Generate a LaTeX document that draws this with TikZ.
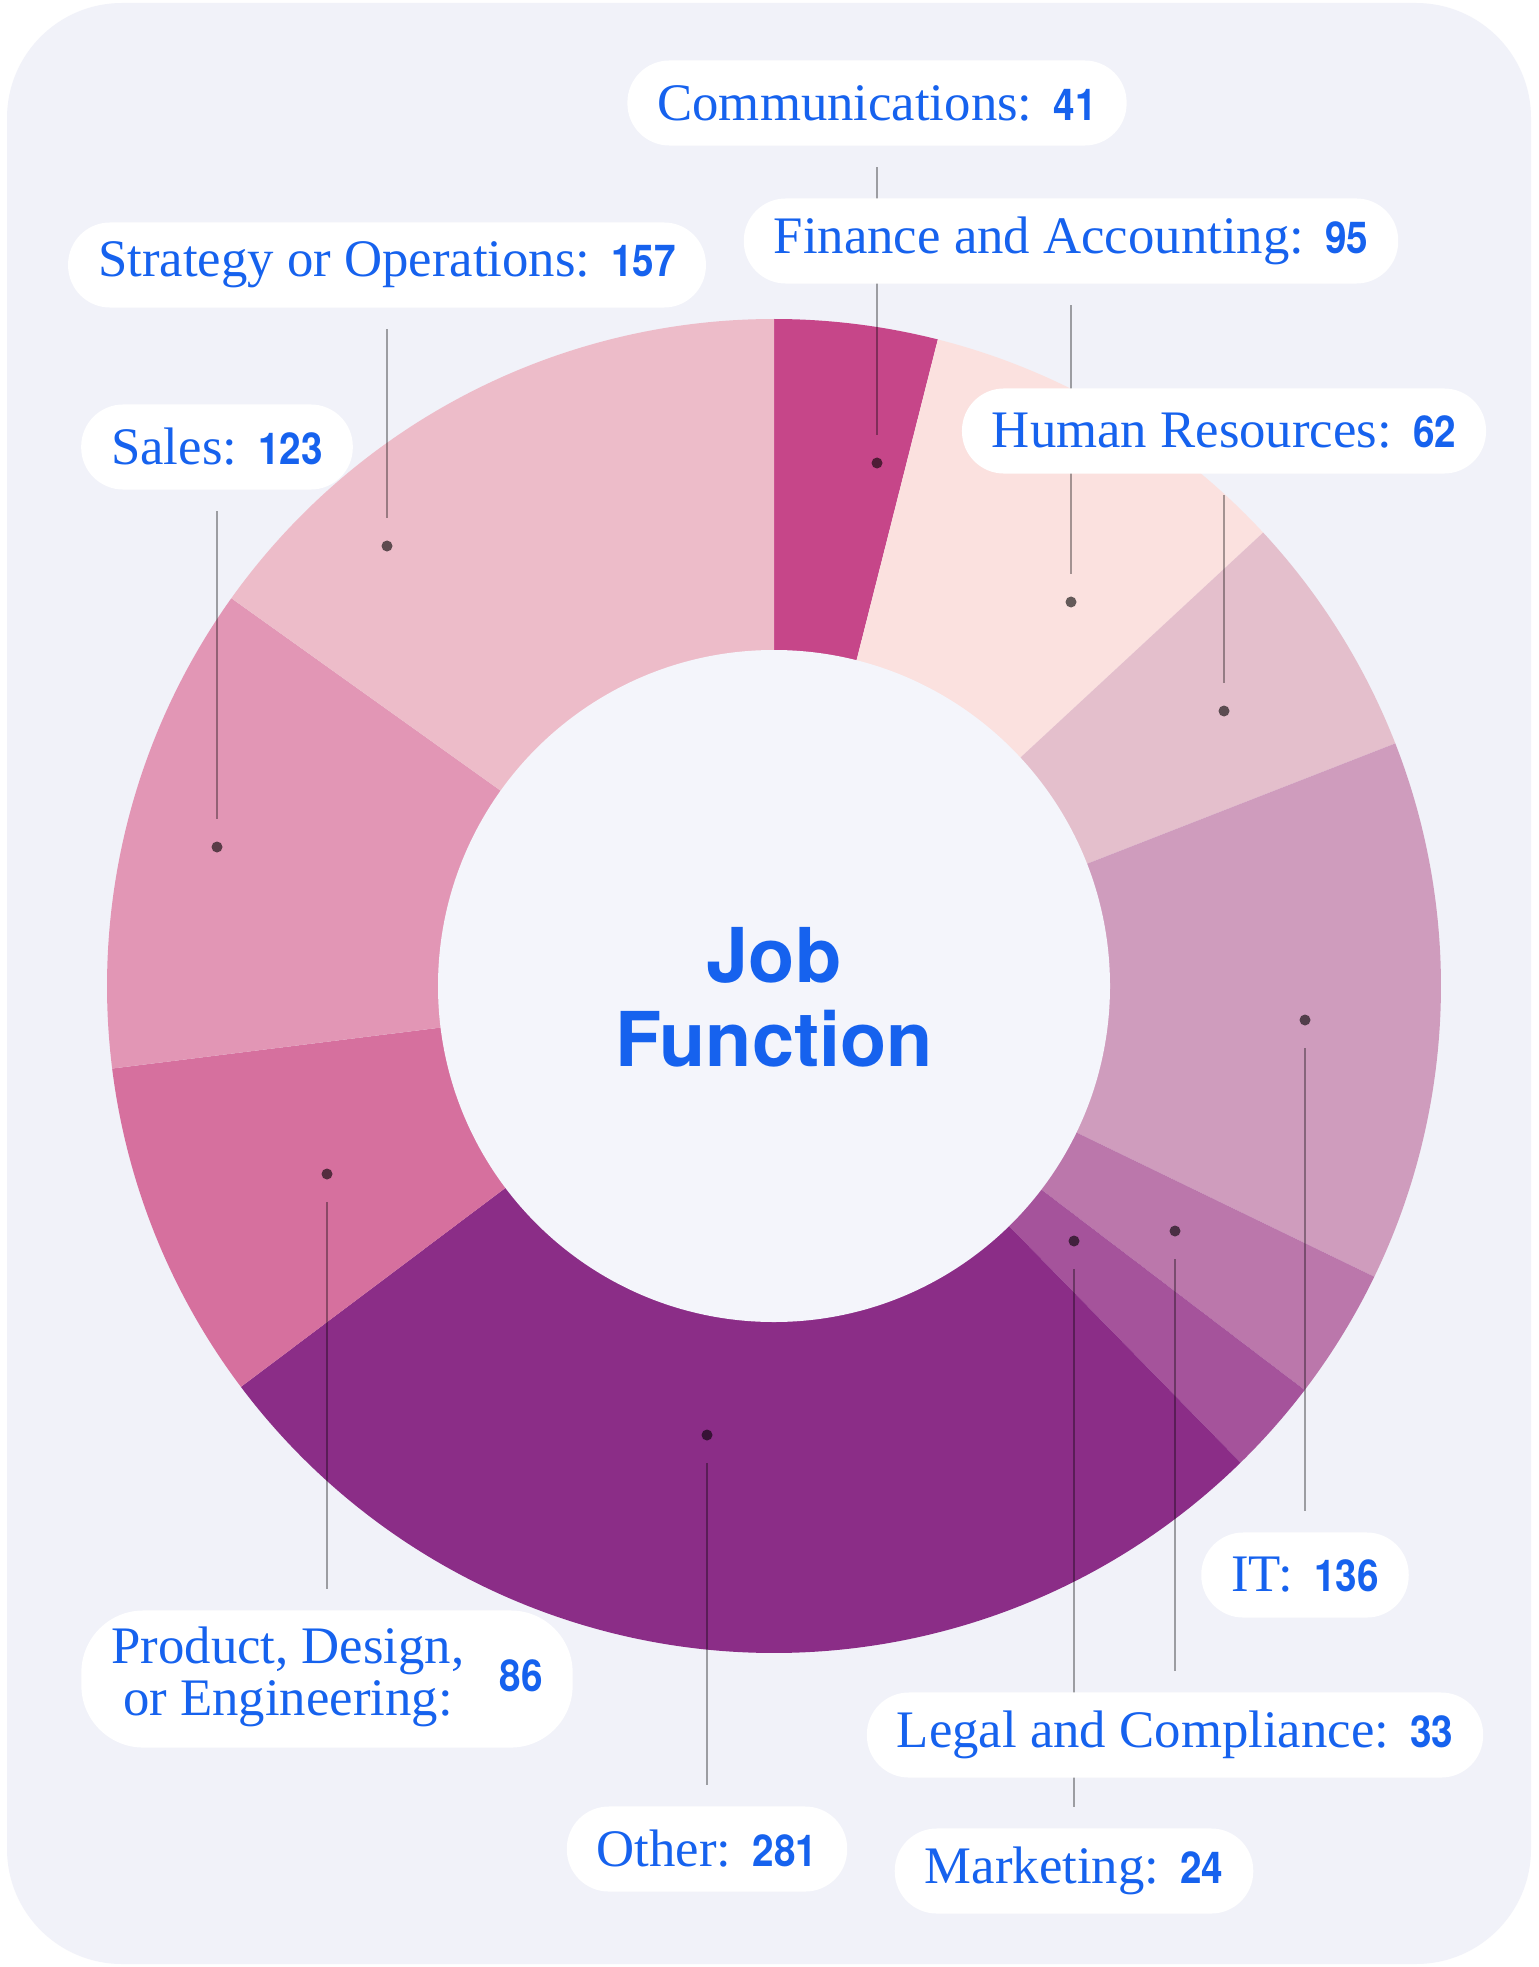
\documentclass[tikz,border=0pt]{standalone}
\usepackage{fontspec}
\setmainfont{Liberation Serif}
\newfontfamily\headfont{TeX Gyre Heros}
\newfontfamily\numfont{TeX Gyre Heros}[FakeStretch=0.88]
\usetikzlibrary{calc}
\definecolor{inkblue}{HTML}{1662EE}
\definecolor{cardbg}{HTML}{F1F2F9}
\definecolor{holebg}{HTML}{F4F5FB}
\definecolor{commcol}{HTML}{C64689}
\definecolor{fincol}{HTML}{FBE1DF}
\definecolor{hrcol}{HTML}{E4BFCC}
\definecolor{itcol}{HTML}{CF9CBD}
\definecolor{legcol}{HTML}{BB77AB}
\definecolor{mktcol}{HTML}{A5539B}
\definecolor{othcol}{HTML}{8B2D87}
\definecolor{prdcol}{HTML}{D6709E}
\definecolor{salcol}{HTML}{E296B5}
\definecolor{strcol}{HTML}{EDBCC9}
\pgfdeclarelayer{chart}
\pgfdeclarelayer{leaders}
\pgfsetlayers{chart,leaders,main}
\newcommand{\cnt}[1]{{\numfont\bfseries\fontsize{12.5}{14}\selectfont #1}}
\tikzset{
  pill/.style={fill=white, rounded corners=0.42cm, minimum height=0.85cm, inner xsep=0.3cm, text=inkblue, font=\fontsize{15}{15}\selectfont},
  tallpill/.style={pill, minimum height=1.37cm, rounded corners=0.62cm},
  dot/.style={circle, fill=black, opacity=0.6, inner sep=0pt, minimum size=0.11cm},
  leader/.style={draw=black, opacity=0.35, line width=0.8pt, shorten <=0.22cm, shorten >=0.21cm}
}
\begin{document}
\begin{tikzpicture}[x=0.01cm, y=0.01cm]
  \useasboundingbox (0,0) rectangle (1538,-1967);
  \begin{pgfonlayer}{chart}
    \fill[white] (0,0) rectangle (1538,-1967);
    \fill[cardbg, rounded corners=1.15cm] (7,-3) rectangle (1531,-1964);
    \coordinate (c) at (774,-986);
    \foreach \a/\b/\col in {90/75.78/commcol, 75.78/42.83/fincol, 42.83/21.33/hrcol, 21.33/-25.84/itcol, -25.84/-37.28/legcol, -37.28/-45.61/mktcol, -45.61/-143.06/othcol, -143.06/-172.89/prdcol, -172.89/-215.55/salcol, -215.55/-270/strcol}
      \fill[\col] (c) -- ++(\a:667) arc[start angle=\a, end angle=\b, radius=667] -- cycle;
    \fill[holebg] (c) circle (336);
  \end{pgfonlayer}

  \node[font=\headfont\bfseries\fontsize{21.5}{24}\selectfont, text=inkblue, align=center] (title) at (774,-997) {Job\\Function};

  \node[pill] (lcomm) at (877,-103) {Communications:\hspace{6pt}\cnt{41}};
  \node[pill] (lfin) at (1071,-241) {Finance and Accounting:\hspace{6pt}\cnt{95}};
  \node[pill] (lstr) at (387,-265) {Strategy or Operations:\hspace{6pt}\cnt{157}};
  \node[pill] (lhr) at (1224,-431) {Human Resources:\hspace{6pt}\cnt{62}};
  \node[pill] (lsal) at (217,-447) {Sales:\hspace{6pt}\cnt{123}};
  \node[pill] (lit) at (1305,-1575) {IT:\hspace{6pt}\cnt{136}};
  \node[tallpill] (lprd) at (327,-1679) {\begin{tabular}{@{}c@{}}Product, Design,\\or Engineering:\end{tabular}\hspace{10pt}\cnt{86}};
  \node[pill] (lleg) at (1175,-1735) {Legal and Compliance:\hspace{6pt}\cnt{33}};
  \node[pill] (loth) at (707,-1849) {Other:\hspace{6pt}\cnt{281}};
  \node[pill] (lmkt) at (1074,-1871) {Marketing:\hspace{6pt}\cnt{24}};

  \node[dot] (dcomm) at (877,-463) {};
  \node[dot] (dfin) at (1071,-602) {};
  \node[dot] (dhr) at (1224,-711) {};
  \node[dot] (dit) at (1305,-1020) {};
  \node[dot] (dleg) at (1175,-1231) {};
  \node[dot] (dmkt) at (1074,-1241) {};
  \node[dot] (doth) at (707,-1435) {};
  \node[dot] (dprd) at (327,-1174) {};
  \node[dot] (dsal) at (217,-847) {};
  \node[dot] (dstr) at (387,-546) {};

  \begin{pgfonlayer}{leaders}
    \foreach \n in {comm,fin,hr,it,leg,mkt,oth,prd,sal,str}
      \draw[leader] (d\n) -- (l\n);
  \end{pgfonlayer}
\end{tikzpicture}
\end{document}
